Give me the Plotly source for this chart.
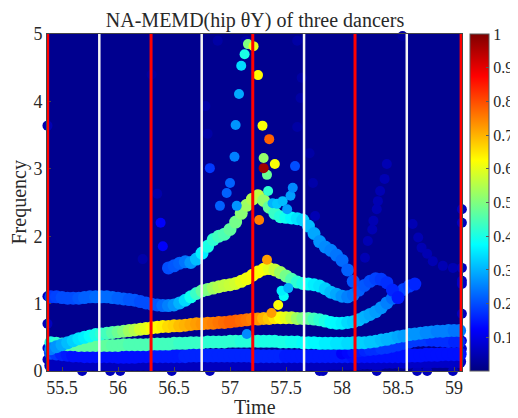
import plotly.graph_objects as go

# ---------------- data ----------------
# Track: hump curve (~1.1 -> 1.5 -> 1.1)
hump_t = [55.40, 55.45, 55.50, 55.55, 55.60, 55.65, 55.70, 55.75, 55.80, 55.85,
          55.90, 55.95, 56.00, 56.05, 56.10, 56.15, 56.20, 56.25, 56.30, 56.35,
          56.40, 56.45, 56.50, 56.55, 56.60, 56.65, 56.70, 56.75, 56.80, 56.85,
          56.90, 56.95, 57.00, 57.05, 57.10, 57.15, 57.20, 57.25, 57.30, 57.35,
          57.40, 57.45, 57.50, 57.55, 57.60, 57.65, 57.70, 57.75, 57.80, 57.85,
          57.90, 57.95, 58.00, 58.05, 58.10, 58.15, 58.20, 58.25, 58.30, 58.35,
          58.40, 58.45, 58.50]
hump_f = [1.10, 1.10, 1.09, 1.08, 1.08, 1.08, 1.09, 1.10, 1.10, 1.10,
          1.10, 1.09, 1.08, 1.07, 1.06, 1.05, 1.03, 1.01, 0.99, 0.98,
          0.97, 0.97, 0.98, 1.01, 1.05, 1.10, 1.15, 1.19, 1.21, 1.23,
          1.25, 1.27, 1.28, 1.30, 1.33, 1.37, 1.42, 1.47, 1.51, 1.52,
          1.50, 1.46, 1.41, 1.36, 1.32, 1.30, 1.29, 1.28, 1.26, 1.22,
          1.17, 1.14, 1.11, 1.10, 1.13, 1.20, 1.27, 1.33, 1.37, 1.36,
          1.31, 1.20, 1.09]
hump_a = [0.18, 0.19, 0.20, 0.20, 0.20, 0.21, 0.22, 0.22, 0.23, 0.23,
          0.23, 0.23, 0.22, 0.22, 0.21, 0.21, 0.20, 0.20, 0.20, 0.21,
          0.23, 0.25, 0.27, 0.30, 0.34, 0.39, 0.43, 0.47, 0.50, 0.53,
          0.55, 0.56, 0.57, 0.58, 0.60, 0.61, 0.62, 0.63, 0.62, 0.60,
          0.57, 0.53, 0.49, 0.45, 0.42, 0.40, 0.38, 0.36, 0.35, 0.33,
          0.31, 0.29, 0.27, 0.25, 0.24, 0.22, 0.21, 0.20, 0.19, 0.18,
          0.17, 0.16, 0.15]

# Track: peak curve (~1.5 -> 2.6 -> 1.3)
peak_t = [56.45, 56.50, 56.55, 56.60, 56.65, 56.70, 56.75, 56.80, 56.85, 56.90,
          56.95, 57.00, 57.05, 57.10, 57.15, 57.20, 57.25, 57.30, 57.35, 57.40,
          57.45, 57.50, 57.55, 57.60, 57.65, 57.70, 57.75, 57.80, 57.85, 57.90,
          57.95, 58.00, 58.05, 58.10]
peak_f = [1.53, 1.56, 1.60, 1.62, 1.61, 1.66, 1.75, 1.85, 1.95, 2.00,
          2.03, 2.10, 2.21, 2.34, 2.46, 2.55, 2.60, 2.53, 2.43, 2.34,
          2.29, 2.28, 2.27, 2.26, 2.24, 2.15, 2.04, 1.92, 1.84, 1.79,
          1.72, 1.64, 1.50, 1.33]
peak_a = [0.20, 0.21, 0.22, 0.24, 0.27, 0.31, 0.36, 0.40, 0.42, 0.44,
          0.45, 0.47, 0.49, 0.51, 0.53, 0.55, 0.56, 0.52, 0.47, 0.43,
          0.41, 0.39, 0.37, 0.35, 0.33, 0.31, 0.29, 0.27, 0.26, 0.25,
          0.24, 0.23, 0.22, 0.21]

# Track: strong band (~0.35 -> 0.8 -> 1.3)
strong_t = [55.40, 55.45, 55.50, 55.55, 55.60, 55.65, 55.70, 55.75, 55.80, 55.85,
            55.90, 55.95, 56.00, 56.05, 56.10, 56.15, 56.20, 56.25, 56.30, 56.35,
            56.40, 56.45, 56.50, 56.55, 56.60, 56.65, 56.70, 56.75, 56.80, 56.85,
            56.90, 56.95, 57.00, 57.05, 57.10, 57.15, 57.20, 57.25, 57.30, 57.35,
            57.40, 57.45, 57.50, 57.55, 57.60, 57.65, 57.70, 57.75, 57.80, 57.85,
            57.90, 57.95, 58.00, 58.05, 58.10, 58.15, 58.20, 58.25, 58.30, 58.35,
            58.40, 58.45, 58.50, 58.55, 58.60, 58.65]
strong_f = [0.33, 0.36, 0.39, 0.42, 0.45, 0.48, 0.50, 0.52, 0.54, 0.55,
            0.56, 0.57, 0.58, 0.59, 0.60, 0.61, 0.62, 0.63, 0.64, 0.65,
            0.66, 0.66, 0.67, 0.67, 0.68, 0.69, 0.70, 0.70, 0.71, 0.71,
            0.72, 0.72, 0.73, 0.74, 0.75, 0.76, 0.77, 0.77, 0.78, 0.78,
            0.79, 0.79, 0.79, 0.79, 0.78, 0.78, 0.78, 0.77, 0.76, 0.74,
            0.72, 0.71, 0.71, 0.72, 0.73, 0.76, 0.80, 0.84, 0.88, 0.94,
            1.01, 1.08, 1.15, 1.21, 1.26, 1.29]
strong_a = [0.25, 0.27, 0.29, 0.31, 0.33, 0.35, 0.36, 0.38, 0.40, 0.42,
            0.44, 0.46, 0.48, 0.50, 0.53, 0.55, 0.58, 0.60, 0.62, 0.63,
            0.64, 0.66, 0.67, 0.69, 0.70, 0.71, 0.72, 0.73, 0.74, 0.75,
            0.76, 0.77, 0.78, 0.78, 0.77, 0.76, 0.75, 0.73, 0.70, 0.68,
            0.65, 0.62, 0.60, 0.57, 0.53, 0.50, 0.47, 0.44, 0.42, 0.40,
            0.38, 0.37, 0.36, 0.34, 0.33, 0.31, 0.30, 0.29, 0.28, 0.27,
            0.25, 0.23, 0.21, 0.19, 0.18, 0.16]

# Full-length sample times for the low bands
full_t = [55.40, 55.45, 55.50, 55.55, 55.60, 55.65, 55.70, 55.75, 55.80, 55.85,
          55.90, 55.95, 56.00, 56.05, 56.10, 56.15, 56.20, 56.25, 56.30, 56.35,
          56.40, 56.45, 56.50, 56.55, 56.60, 56.65, 56.70, 56.75, 56.80, 56.85,
          56.90, 56.95, 57.00, 57.05, 57.10, 57.15, 57.20, 57.25, 57.30, 57.35,
          57.40, 57.45, 57.50, 57.55, 57.60, 57.65, 57.70, 57.75, 57.80, 57.85,
          57.90, 57.95, 58.00, 58.05, 58.10, 58.15, 58.20, 58.25, 58.30, 58.35,
          58.40, 58.45, 58.50, 58.55, 58.60, 58.65, 58.70, 58.75, 58.80, 58.85,
          58.90, 58.95, 59.00, 59.05]

# Track: cyan band (~0.4)
cyan_f = [0.42, 0.41, 0.40, 0.39, 0.39, 0.38, 0.38, 0.38, 0.38, 0.38,
          0.38, 0.38, 0.38, 0.39, 0.39, 0.39, 0.39, 0.39, 0.40, 0.40,
          0.40, 0.40, 0.41, 0.41, 0.41, 0.42, 0.42, 0.42, 0.43, 0.43,
          0.43, 0.43, 0.44, 0.44, 0.44, 0.44, 0.44, 0.44, 0.44, 0.44,
          0.44, 0.43, 0.43, 0.43, 0.43, 0.42, 0.42, 0.42, 0.41, 0.41,
          0.41, 0.41, 0.41, 0.41, 0.42, 0.42, 0.42, 0.43, 0.44, 0.46,
          0.47, 0.49, 0.51, 0.52, 0.54, 0.55, 0.56, 0.57, 0.58, 0.59,
          0.59, 0.60, 0.60, 0.60]
cyan_a = [0.40, 0.42, 0.44, 0.45, 0.46, 0.47, 0.47, 0.47, 0.47, 0.47,
          0.47, 0.46, 0.46, 0.46, 0.45, 0.45, 0.45, 0.45, 0.45, 0.44,
          0.44, 0.44, 0.44, 0.43, 0.43, 0.43, 0.43, 0.43, 0.42, 0.42,
          0.42, 0.42, 0.42, 0.42, 0.41, 0.41, 0.41, 0.41, 0.40, 0.40,
          0.40, 0.40, 0.40, 0.39, 0.39, 0.38, 0.38, 0.37, 0.37, 0.36,
          0.36, 0.35, 0.35, 0.34, 0.34, 0.33, 0.33, 0.32, 0.32, 0.31,
          0.30, 0.30, 0.29, 0.28, 0.28, 0.27, 0.27, 0.26, 0.26, 0.25,
          0.25, 0.25, 0.24, 0.24]

# Track: blue band (~0.22)
blue_f = [0.27, 0.26, 0.25, 0.24, 0.23, 0.23, 0.22, 0.22, 0.22, 0.22,
          0.22, 0.22, 0.21, 0.21, 0.21, 0.21, 0.22, 0.22, 0.22, 0.22,
          0.22, 0.22, 0.22, 0.22, 0.22, 0.23, 0.23, 0.23, 0.23, 0.23,
          0.23, 0.23, 0.23, 0.23, 0.23, 0.23, 0.22, 0.22, 0.22, 0.22,
          0.22, 0.22, 0.22, 0.22, 0.22, 0.22, 0.22, 0.22, 0.22, 0.22,
          0.22, 0.22, 0.22, 0.22, 0.22, 0.22, 0.22, 0.22, 0.22, 0.22,
          0.22, 0.22, 0.22, 0.22, 0.23, 0.23, 0.23, 0.24, 0.24, 0.24,
          0.25, 0.25, 0.25, 0.25]
blue_a = [0.20, 0.18, 0.16, 0.15, 0.14, 0.14, 0.14, 0.14, 0.14, 0.14,
          0.14, 0.14, 0.14, 0.14, 0.14, 0.14, 0.14, 0.14, 0.14, 0.15,
          0.15, 0.15, 0.15, 0.15, 0.16, 0.16, 0.16, 0.16, 0.16, 0.16,
          0.16, 0.16, 0.16, 0.16, 0.16, 0.16, 0.16, 0.16, 0.16, 0.16,
          0.16, 0.16, 0.15, 0.15, 0.15, 0.15, 0.15, 0.15, 0.15, 0.15,
          0.15, 0.15, 0.15, 0.15, 0.14, 0.14, 0.14, 0.14, 0.14, 0.14,
          0.14, 0.14, 0.14, 0.14, 0.14, 0.14, 0.14, 0.14, 0.14, 0.14,
          0.14, 0.14, 0.14, 0.14]

# Track: deep band (~0.1)
deep_f = [0.08, 0.08, 0.09, 0.09, 0.10, 0.10, 0.10, 0.10, 0.10, 0.10,
          0.10, 0.10, 0.10, 0.10, 0.10, 0.10, 0.10, 0.10, 0.10, 0.10,
          0.10, 0.10, 0.10, 0.10, 0.10, 0.10, 0.10, 0.10, 0.10, 0.10,
          0.10, 0.10, 0.10, 0.10, 0.10, 0.10, 0.10, 0.10, 0.10, 0.10,
          0.10, 0.10, 0.10, 0.10, 0.10, 0.10, 0.10, 0.10, 0.10, 0.10,
          0.11, 0.11, 0.11, 0.11, 0.11, 0.11, 0.12, 0.12, 0.12, 0.12,
          0.13, 0.13, 0.13, 0.13, 0.13, 0.14, 0.14, 0.14, 0.14, 0.14,
          0.14, 0.14, 0.14, 0.14]
deep_a = [0.06, 0.06, 0.06, 0.06, 0.06, 0.06, 0.06, 0.06, 0.06, 0.06,
          0.06, 0.06, 0.06, 0.06, 0.06, 0.06, 0.06, 0.06, 0.06, 0.06,
          0.06, 0.06, 0.06, 0.06, 0.06, 0.06, 0.06, 0.06, 0.06, 0.06,
          0.06, 0.06, 0.06, 0.06, 0.06, 0.06, 0.06, 0.06, 0.06, 0.06,
          0.06, 0.06, 0.06, 0.06, 0.06, 0.06, 0.06, 0.06, 0.06, 0.06,
          0.06, 0.06, 0.06, 0.06, 0.06, 0.06, 0.07, 0.07, 0.07, 0.07,
          0.07, 0.07, 0.07, 0.07, 0.07, 0.07, 0.07, 0.07, 0.07, 0.07,
          0.07, 0.07, 0.07, 0.07]

# Track: crossing band at right
cross_t = [58.00, 58.05, 58.10, 58.15, 58.20, 58.25, 58.30, 58.35, 58.40, 58.45,
           58.50, 58.55, 58.60, 58.65, 58.70, 58.75, 58.80, 58.85, 58.90, 58.95,
           59.00, 59.05]
cross_f = [0.26, 0.27, 0.28, 0.29, 0.30, 0.31, 0.32, 0.33, 0.34, 0.36,
           0.38, 0.40, 0.42, 0.44, 0.45, 0.45, 0.45, 0.44, 0.44, 0.43,
           0.43, 0.43]
cross_a = [0.12, 0.13, 0.14, 0.15, 0.16, 0.17, 0.17, 0.18, 0.18, 0.18,
           0.18, 0.18, 0.18, 0.18, 0.18, 0.18, 0.17, 0.17, 0.17, 0.17,
           0.16, 0.16]

# Faint scattered points
faint_t = [57.14, 56.89, 57.60, 57.64, 57.63, 56.78, 56.80, 57.60, 56.30, 58.54,
           58.205, 58.23, 58.27, 58.28, 58.31, 58.32, 58.34, 58.38, 58.40,
           58.63, 58.68, 58.71, 58.76, 58.81, 58.90, 58.99,
           57.74, 57.76, 57.71, 56.22, 56.35,
           55.37, 55.37, 55.37, 55.37, 55.37,
           59.07, 59.07, 59.07, 59.07, 59.07, 59.07, 59.07, 59.07,
           55.68, 55.93, 56.02, 56.48, 56.82, 57.80, 57.83, 58.31, 58.67, 58.76, 58.99]
faint_f = [4.90, 4.90, 4.90, 4.35, 4.05, 3.93, 3.52, 3.62, 4.40, 4.97,
           1.68, 1.93, 2.10, 2.23, 2.40, 2.52, 2.67, 2.85, 3.07,
           2.18, 1.98, 1.83, 1.74, 1.63, 1.56, 1.53,
           2.79, 2.30, 3.23, 1.66, 2.63,
           3.64, 1.11, 0.70, 0.34, 0.17,
           2.40, 2.20, 1.53, 1.34, 1.29, 0.85, 0.45, 0.33,
           0.00, 0.00, 0.00, 0.00, 0.00, 0.00, 0.00, 0.00, 0.00, 0.00, 0.00]
faint_a = [0.035, 0.035, 0.035, 0.035, 0.035, 0.035, 0.035, 0.035, 0.03, 0.03,
           0.05, 0.05, 0.05, 0.05, 0.05, 0.05, 0.05, 0.05, 0.05,
           0.05, 0.05, 0.05, 0.05, 0.05, 0.05, 0.05,
           0.04, 0.05, 0.035, 0.04, 0.04,
           0.05, 0.06, 0.06, 0.07, 0.06,
           0.06, 0.06, 0.06, 0.06, 0.07, 0.06, 0.08, 0.07,
           0.06, 0.06, 0.06, 0.06, 0.06, 0.06, 0.06, 0.06, 0.06, 0.06, 0.06]

# Bright scattered points
spot_t = [56.82, 57.00, 56.97, 56.91, 57.06, 56.38, 56.40, 57.15,
          57.38, 57.42, 57.47, 57.54, 57.56, 57.58, 57.51,
          57.48, 57.46, 57.52,
          57.04, 57.05, 57.08, 57.10, 57.13, 57.16, 57.21, 57.25,
          57.29, 57.35, 57.30, 57.40, 57.33, 57.34, 57.30,
          57.26, 57.33, 57.43, 57.37]
spot_f = [3.01, 2.79, 2.64, 2.45, 2.45, 2.20, 1.85, 0.55,
          2.49, 2.48, 2.52, 2.60, 2.72, 3.04, 2.40,
          1.11, 1.19, 1.23,
          3.18, 3.65, 4.11, 4.53, 4.70, 4.85, 4.82, 4.39,
          3.64, 3.44, 3.16, 3.07, 2.91, 2.67, 3.01,
          2.24, 1.65, 0.98, 0.86]
spot_a = [0.18, 0.22, 0.22, 0.22, 0.27, 0.12, 0.12, 0.26,
          0.30, 0.32, 0.31, 0.28, 0.26, 0.20, 0.28,
          0.38, 0.36, 0.30,
          0.25, 0.27, 0.29, 0.34, 0.40, 0.50, 0.60, 0.63,
          0.62, 0.78, 0.52, 0.62, 0.48, 0.42, 0.97,
          0.75, 0.72, 0.62, 0.72]

# Segment boundaries (vertical markers)
red_lines_t = [55.372, 56.295, 57.203, 58.116, 59.063]
white_lines_t = [55.833, 56.747, 57.661, 58.578]

# Axis ticks
x_ticks = [55.5, 56, 56.5, 57, 57.5, 58, 58.5, 59]
x_tick_text = ["55.5", "56", "56.5", "57", "57.5", "58", "58.5", "59"]
y_ticks = [0, 1, 2, 3, 4, 5]
cb_ticks = [0.1, 0.2, 0.3, 0.4, 0.5, 0.6, 0.7, 0.8, 0.9, 1.0]
cb_tick_text = ["0.1", "0.2", "0.3", "0.4", "0.5", "0.6", "0.7", "0.8", "0.9", "1"]

# ---------------- figure ----------------
# The page body adds an 8 px offset, so the figure is laid out 8 px smaller.
JET = [[0.0, "rgb(0,0,128)"], [0.125, "rgb(0,0,255)"], [0.375, "rgb(0,255,255)"],
       [0.625, "rgb(255,255,0)"], [0.875, "rgb(255,0,0)"], [1.0, "rgb(128,0,0)"]]
FONT = "Liberation Serif, Times New Roman, serif"
TXT = "rgb(40,40,40)"
W, H = 510, 410
PL, PT, PR, PB = 39, 26, 454, 363   # plot area in figure pixels

fig = go.Figure()


def add_track(tx, fy, amp, size, show_cb=False):
    marker = dict(size=size, color=amp, colorscale=JET, cmin=0, cmax=1,
                  line=dict(width=0), opacity=1)
    if show_cb:
        marker.update(showscale=True, colorbar=dict(
            x=(462 - PL) / (PR - PL), xanchor="left", xpad=0, y=0.5, yanchor="middle",
            len=1.0, lenmode="fraction", thickness=19, ypad=0,
            outlinecolor="rgb(90,90,90)", outlinewidth=1,
            tickvals=cb_ticks, ticktext=cb_tick_text,
            ticks="inside", ticklen=3, tickcolor="rgb(90,90,90)",
            ticklabelposition="outside",
            tickfont=dict(family=FONT, size=16, color=TXT)))
    else:
        marker.update(showscale=False)
    fig.add_trace(go.Scatter(x=tx, y=fy, mode="markers", marker=marker,
                             cliponaxis=False, hoverinfo="skip", showlegend=False))


add_track(faint_t, faint_f, faint_a, 10)
add_track(full_t, deep_f, deep_a, 13)
add_track(full_t, blue_f, blue_a, 14)
add_track(cross_t, cross_f, cross_a, 12)
add_track(full_t, cyan_f, cyan_a, 13)
add_track(strong_t, strong_f, strong_a, 13)
add_track(hump_t, hump_f, hump_a, 13)
add_track(peak_t, peak_f, peak_a, 13)
add_track(spot_t, spot_f, spot_a, 10, show_cb=True)

for tv in white_lines_t:
    fig.add_shape(type="line", x0=tv, x1=tv, y0=0, y1=1, xref="x", yref="y domain",
                  line=dict(color="rgb(245,245,245)", width=2.5), layer="above")
for tv in red_lines_t:
    fig.add_shape(type="line", x0=tv, x1=tv, y0=0, y1=1, xref="x", yref="y domain",
                  line=dict(color="rgb(255,0,0)", width=3), layer="above")

fig.update_layout(
    width=W, height=H,
    margin=dict(l=PL, r=W - PR, t=PT, b=H - PB, autoexpand=False),
    paper_bgcolor="white", plot_bgcolor="rgb(0,0,143)",
    font=dict(family=FONT, color=TXT),
    title=dict(text="NA-MEMD(hip θY) of three dancers", x=(247 - 0) / W,
               xanchor="center", y=1 - 12 / H, yanchor="middle", yref="container",
               font=dict(family=FONT, size=20, color=TXT)),
    xaxis=dict(range=[55.366, 59.071], tickvals=x_ticks, ticktext=x_tick_text,
               showgrid=False, zeroline=False, showline=True, mirror=True,
               linecolor="rgb(70,70,70)", linewidth=1, ticks="inside", ticklen=4,
               tickcolor="rgb(70,70,70)", automargin=False,
               tickfont=dict(family=FONT, size=18, color=TXT)),
    yaxis=dict(range=[0, 5], tickvals=y_ticks, showgrid=False, zeroline=False,
               showline=True, mirror=True, linecolor="rgb(70,70,70)", linewidth=1,
               ticks="inside", ticklen=4, tickcolor="rgb(70,70,70)", automargin=False,
               tickfont=dict(family=FONT, size=18, color=TXT)),
    annotations=[
        dict(text="Time", xref="paper", yref="paper", x=0.5,
             y=(PB - 399) / (PB - PT), xanchor="center", yanchor="middle",
             showarrow=False, font=dict(family=FONT, size=20, color=TXT)),
        dict(text="Frequency", xref="paper", yref="paper",
             x=(11 - PL) / (PR - PL), y=0.5, xanchor="center", yanchor="middle",
             textangle=-90, showarrow=False,
             font=dict(family=FONT, size=20, color=TXT)),
    ],
)

fig.write_html("out.html")
